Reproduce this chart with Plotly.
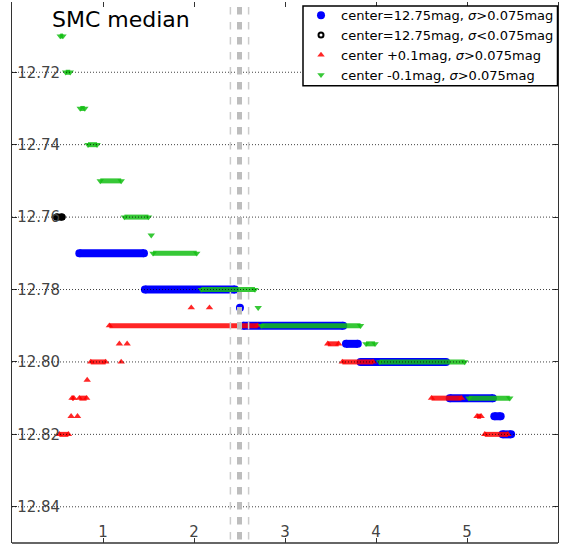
import plotly.graph_objects as go

# ---------------- data ----------------
ytick_vals = [12.72, 12.74, 12.76, 12.78, 12.80, 12.82, 12.84]
ytick_text = ["12.72", "12.74", "12.76", "12.78", "12.80", "12.82", "12.84"]
xtick_vals = [1, 2, 3, 4, 5]
xtick_text = ["1", "2", "3", "4", "5"]
ref_lines_x = [2.4, 2.5, 2.6]

# center = 12.75 mag, sigma > 0.075 mag  (runs of consecutive points: start, end, magnitude)
blue_run_mag = [12.77, 12.78, 12.79, 12.795, 12.80, 12.81, 12.815, 12.82]
blue_run_start = [0.74, 1.46, 2.54, 3.67, 3.83, 4.81, 5.30, 5.39]
blue_run_end = [1.45, 2.45, 3.64, 3.80, 4.77, 5.285, 5.37, 5.485]
blue_pt_x = [2.505]
blue_pt_mag = [12.785]

# center = 12.75 mag, sigma < 0.075 mag
black_run_mag = [12.76]
black_run_start = [0.49]
black_run_end = [0.55]
black_pt_x = []
black_pt_mag = []

# center + 0.1 mag
red_run_mag = [12.79, 12.80, 12.81, 12.81, 12.82, 12.795, 12.80, 12.81, 12.815, 12.82]
red_run_start = [1.07, 0.865, 0.66, 0.74, 0.52, 3.47, 3.63, 4.61, 5.11, 5.195]
red_run_end = [2.70, 1.03, 0.68, 0.82, 0.62, 3.59, 3.97, 4.94, 5.155, 5.45]
red_pt_x = [1.97, 2.17, 1.18, 1.265, 1.20, 0.826, 0.65, 0.72]
red_pt_mag = [12.785, 12.785, 12.795, 12.795, 12.80, 12.805, 12.815, 12.815]

# center - 0.1 mag
green_run_mag = [12.71, 12.72, 12.73, 12.74, 12.75, 12.76, 12.77, 12.78, 12.79, 12.795, 12.80, 12.81]
green_run_start = [0.53, 0.59, 0.75, 0.835, 0.97, 1.235, 1.55, 2.08, 2.74, 3.89, 4.04, 5.02]
green_run_end = [0.56, 0.64, 0.80, 0.935, 1.20, 1.50, 2.03, 2.67, 3.83, 3.99, 4.975, 5.47]
green_pt_x = [1.53, 2.705]
green_pt_mag = [12.765, 12.785]

legend_names = [
    "center=12.75mag, <i>σ</i>&gt;0.075mag",
    "center=12.75mag, <i>σ</i>&lt;0.075mag",
    "center +0.1mag, <i>σ</i>&gt;0.075mag",
    "center -0.1mag, <i>σ</i>&gt;0.075mag",
]

# ---------------- figure ----------------
fig = go.Figure()

series = [
    (blue_run_mag, blue_run_start, blue_run_end, blue_pt_x, blue_pt_mag,
     dict(color="#0000ff", width=8), dict(symbol="circle", size=8, color="#0000ff"), None),
    (black_run_mag, black_run_start, black_run_end, black_pt_x, black_pt_mag,
     dict(color="#000000", width=7),
     dict(symbol="circle-open", size=5, color="#000000", line=dict(width=2, color="#000000")),
     dict(symbol="circle", size=7, color="#000000")),
    (red_run_mag, red_run_start, red_run_end, red_pt_x, red_pt_mag,
     dict(color="rgba(255,0,0,0.85)", width=5),
     dict(symbol="triangle-up", size=6.5, color="rgba(255,0,0,0.85)", line=dict(width=0)), None),
    (green_run_mag, green_run_start, green_run_end, green_pt_x, green_pt_mag,
     dict(color="rgba(20,190,20,0.85)", width=5),
     dict(symbol="triangle-down", size=6.5, color="rgba(20,190,20,0.85)", line=dict(width=0)), None),
]

for name, (rmag, rs, re_, px, pm, lstyle, mstyle, under) in zip(legend_names, series):
    lx, ly = [], []
    for m, a, b in zip(rmag, rs, re_):
        lx += [a, b, None]
        ly += [m, m, None]
    if under is None:
        fig.add_trace(go.Scatter(x=lx, y=ly, mode="lines", line=lstyle,
                                 showlegend=False, hoverinfo="skip"))
    else:
        # densely overlapping open markers read as a solid run
        fig.add_trace(go.Scatter(x=lx, y=ly, mode="lines+markers", line=lstyle, marker=under,
                                 showlegend=False, hoverinfo="skip"))
    fig.add_trace(go.Scatter(x=list(rs) + list(re_) + list(px),
                             y=list(rmag) + list(rmag) + list(pm),
                             mode="markers", marker=mstyle, name=name))

PW, PH, ML, MB = 546, 543, 12, 8   # plot-area size / margins in px


def px_x(p):
    return (p - ML) / PW


def px_y(p):
    return 1 - p / PH


shapes = []
for v in ytick_vals:
    shapes.append(dict(type="line", xref="x domain", x0=0, x1=1, yref="y", y0=v, y1=v,
                       line=dict(color="rgba(0,0,0,0.75)", width=1, dash="1px,2px"),
                       layer="above"))
for v in ref_lines_x:
    center = abs(v - 2.5) < 1e-9
    shapes.append(dict(type="line", xref="x", x0=v, x1=v, yref="y domain",
                       y0=1 + 10 / PH, y1=0,
                       line=dict(color="#bdbdbd" if center else "#cccccc",
                                 width=5 if center else 1.5, dash="7.5px,7.5px"),
                       layer="above"))
shapes.append(dict(type="line", xref="x domain", x0=0, x1=1, yref="y domain", y0=0, y1=0,
                   line=dict(color="#333333", width=1.3), layer="above"))
# legend frame
shapes.append(dict(type="rect", xref="paper", yref="paper",
                   x0=px_x(303), x1=px_x(557.5), y0=px_y(84), y1=px_y(4),
                   fillcolor="white", line=dict(color="black", width=1.5), layer="above"))

fig.update_layout(
    width=566, height=551,
    margin=dict(l=ML, r=8, t=0, b=MB),
    plot_bgcolor="white", paper_bgcolor="white",
    font=dict(family="DejaVu Sans", size=15, color="black"),
    shapes=shapes,
    legend=dict(x=px_x(301), xanchor="left", y=px_y(-1.8), yanchor="top",
                bgcolor="rgba(0,0,0,0)", borderwidth=0,
                font=dict(size=13), itemsizing="trace"),
    annotations=[dict(text="SMC median", xref="paper", yref="paper",
                      x=px_x(50), y=px_y(18), xanchor="left", yanchor="middle",
                      showarrow=False, font=dict(size=22, color="black"))],
)
fig.update_xaxes(range=[0, 6], tickvals=xtick_vals, ticktext=xtick_text,
                 ticks="inside", ticklen=5, tickwidth=1, tickcolor="#333333",
                 ticklabelposition="inside", ticklabelstandoff=-2,
                 showgrid=False, zeroline=False, showline=False, mirror="ticks")
fig.update_yaxes(range=[12.85, 12.7006], tickvals=ytick_vals, ticktext=ytick_text,
                 ticks="inside", ticklen=5, tickwidth=1, tickcolor="#333333",
                 ticklabelposition="inside", showgrid=False, zeroline=False,
                 showline=True, linecolor="#333333", linewidth=1.3, mirror="ticks")

fig.write_html("out.html")
